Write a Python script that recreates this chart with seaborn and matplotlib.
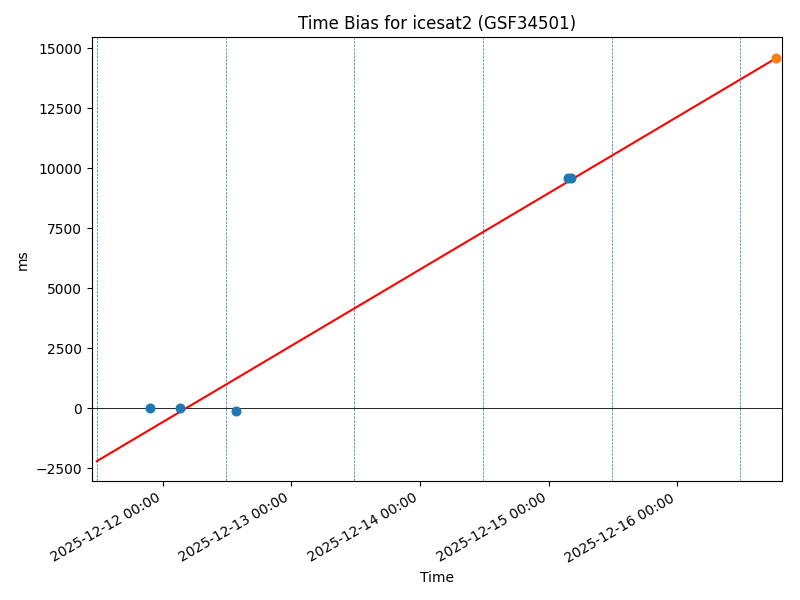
import matplotlib
matplotlib.use('Agg')
import matplotlib.dates as mdates
import matplotlib.pyplot as plt
import pandas as pd
import seaborn as sns

# observed time bias passes
obs_times = ['2025-12-11 21:42', '2025-12-12 03:20', '2025-12-12 13:40',
             '2025-12-15 03:35', '2025-12-15 04:08']
obs_bias = [-10, -15, -110, 9600, 9600]

# predicted point
pred_times = ['2025-12-16 18:27']
pred_bias = [14590]

# fitted trend
fit_times = ['2025-12-11 11:44', '2025-12-16 18:27']
fit_bias = [-2210, 14590]

# arc boundaries
arc_times = ['2025-12-11 11:44', '2025-12-12 11:44', '2025-12-13 11:44',
             '2025-12-14 11:44', '2025-12-15 11:44', '2025-12-16 11:44']

x_limits = ['2025-12-11 10:50', '2025-12-16 19:35']

obs = pd.DataFrame({'time': pd.to_datetime(obs_times), 'bias': obs_bias})
pred = pd.DataFrame({'time': pd.to_datetime(pred_times), 'bias': pred_bias})
fit = pd.DataFrame({'time': pd.to_datetime(fit_times), 'bias': fit_bias})

fig, ax = plt.subplots(figsize=(8, 6), dpi=100)

for t in pd.to_datetime(arc_times):
    ax.axvline(t, color='tab:blue', linestyle='--', linewidth=0.5)
ax.axhline(0, color='black', linewidth=0.6)

sns.lineplot(data=fit, x='time', y='bias', color='red', linewidth=1.5, ax=ax)
sns.scatterplot(data=obs, x='time', y='bias', color='tab:blue', s=52,
                linewidth=0, ax=ax, zorder=3)
sns.scatterplot(data=pred, x='time', y='bias', color='tab:orange', s=52,
                linewidth=0, ax=ax, zorder=3)

ax.set_xlim(pd.to_datetime(x_limits))
ax.set_ylim(-3045, 15460)
ax.xaxis.set_major_locator(mdates.DayLocator())
ax.xaxis.set_major_formatter(mdates.DateFormatter('%Y-%m-%d %H:%M'))
ax.set_title('Time Bias for icesat2 (GSF34501)')
ax.set_xlabel('Time')
ax.set_ylabel('ms')
fig.autofmt_xdate()
fig.subplots_adjust(left=0.115, right=0.978, top=0.938, bottom=0.198)
fig.savefig('out.png', dpi=100)
plt.close(fig)
